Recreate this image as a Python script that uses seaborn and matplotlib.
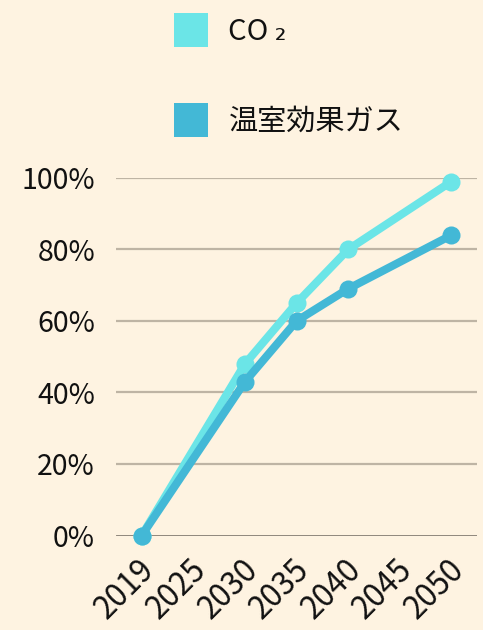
import matplotlib
matplotlib.use("Agg")
import matplotlib.pyplot as plt
import matplotlib.transforms as mtransforms
from matplotlib.lines import Line2D
import seaborn as sns
import pandas as pd

tick_years = ["2019", "2025", "2030", "2035", "2040", "2045", "2050"]
point_years = ["2019", "2030", "2035", "2040", "2050"]
co2_values = [0, 48, 65, 80, 99]
ghg_values = [0, 43, 60, 69, 84]
series_names = ["CO ₂", "温室効果ガス"]
y_ticks = [0, 20, 40, 60, 80, 100]
y_labels = ["0%", "20%", "40%", "60%", "80%", "100%"]

colors = {"CO ₂": "#6BE5E7", "温室効果ガス": "#43B8D6"}
bg = "#FEF3E1"

sns.set_theme(style="white")
plt.rcParams["font.family"] = ["Noto Sans CJK JP", "DejaVu Sans"]

df = pd.DataFrame({
    "pos": [tick_years.index(y) for y in point_years] * 2,
    "value": co2_values + ghg_values,
    "series": [series_names[0]] * len(point_years) + [series_names[1]] * len(point_years),
})

fig = plt.figure(figsize=(4.83, 6.30), dpi=100, facecolor=bg)
ax = fig.add_axes([0.240, 0.150, 0.748, 0.5675])
ax.set_facecolor(bg)

for yv in y_ticks[1:]:
    ax.axhline(yv, color="#BEB4A4", lw=1.6, zorder=0)
ax.axhline(0, color="#6F685F", lw=1.8, zorder=1)

sns.lineplot(data=df, x="pos", y="value", hue="series", palette=colors,
             hue_order=series_names, marker="o", markersize=13, markeredgewidth=0,
             linewidth=5.8, ax=ax, legend=False, clip_on=False, zorder=3)

ax.set_xlim(-0.5, 6.5)
ax.set_ylim(0, 100)
ax.set_xticks(range(len(tick_years)))
ax.set_xticklabels(tick_years, rotation=45, ha="right", va="center",
                   rotation_mode="anchor", fontsize=22.5, color="#111111")
ax.set_yticks(y_ticks)
ax.set_yticklabels(y_labels, fontsize=20.5, color="#111111")
ax.tick_params(axis="both", length=0)
ax.tick_params(axis="x", pad=14)
ax.tick_params(axis="y", pad=15)
ax.set_xlabel("")
ax.set_ylabel("")
for s in ax.spines.values():
    s.set_visible(False)

offset = mtransforms.ScaledTranslation(8 / 100, -10 / 100, fig.dpi_scale_trans)
for lbl in ax.get_xticklabels():
    lbl.set_transform(lbl.get_transform() + offset)

handles = [Line2D([0], [0], marker="s", color="none", markerfacecolor=colors[n],
                  markeredgewidth=0, markersize=24.5) for n in series_names]
leg = fig.legend(handles, series_names, loc="upper left",
                 bbox_to_anchor=(0.31, 1.01), frameon=False, fontsize=21,
                 handlelength=1.2, handletextpad=0.7, labelspacing=2.05,
                 borderpad=0.3)
for t in leg.get_texts():
    t.set_color("#111111")

fig.savefig("out.png", dpi=100, facecolor=bg)
